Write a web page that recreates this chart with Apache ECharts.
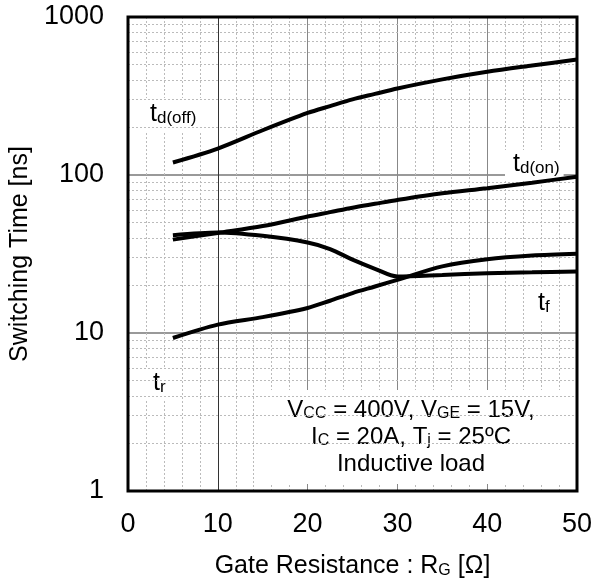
<!DOCTYPE html>
<html>
<head>
<meta charset="utf-8">
<script src="https://cdn.jsdelivr.net/npm/echarts@6/dist/echarts.min.js"></script>
<style>
html,body{margin:0;padding:0;background:#fff;}
#chart{width:603px;height:588px;}
</style>
</head>
<body>
<div id="chart"></div>
<script>
// Gate resistance values (Ω)
const rg = [5, 10, 15, 20, 22.5, 25, 27.5, 30, 35, 40, 45, 50];
// Switching times (ns)
const tdOff = [120, 147, 192, 247, 273, 301, 326, 353, 403, 450, 493, 538];
const tdOn  = [39, 43, 47.5, 54.6, 58.2, 62.1, 65.7, 69.5, 76.6, 82.4, 89.4, 97.6];
const tf    = [41.6, 43.3, 41.2, 37.4, 34, 29.1, 25.5, 22.8, 23.3, 23.9, 24.2, 24.5];
const tr    = [9.3, 11.3, 12.6, 14.4, 16.0, 17.9, 19.7, 21.7, 26.4, 29.3, 30.9, 31.7];
// Minor horizontal gridline values on the log axis
const minorY = [2,3,4,5,6,7,8,9,20,30,40,50,60,70,80,90,200,300,400,500,600,700,800,900];
// Emphasised vertical gridline
const darkX = [10];

const FONT = "'Liberation Sans', Arial, sans-serif";
const pairs = (ys) => rg.map((x, i) => [x, ys[i]]);

const chart = echarts.init(document.getElementById('chart'), null, {renderer: 'canvas'});

const curve = (name, ys) => ({
  name, type: 'line', data: pairs(ys), smooth: 0.3, showSymbol: false, symbol: 'none',
  z: 10, lineStyle: {color: '#000', width: 4}, silent: true
});

const subRich = {
  m: {fontSize: 25, fontFamily: FONT, color: '#000', lineHeight: 25, verticalAlign: 'bottom'},
  s: {fontSize: 17, fontFamily: FONT, color: '#000', lineHeight: 12, verticalAlign: 'bottom'}
};

function label(x, y, main, sub, pad) {
  return {
    type: 'text', x, y, z: 5,
    style: {
      text: '{m|' + main + '}{s|' + sub + '}',
      rich: subRich, align: 'left', verticalAlign: 'top',
      backgroundColor: '#fff', padding: pad
    }
  };
}

chart.setOption({
  animation: false,
  backgroundColor: '#fff',
  grid: {left: 128, right: 26, top: 17, bottom: 97, show: true, borderColor: '#000',
         borderWidth: 3, backgroundColor: 'transparent', z: 20},
  xAxis: {
    type: 'value', min: 0, max: 50, interval: 10,
    axisLine: {show: false}, axisTick: {show: false},
    axisLabel: {fontSize: 27, fontFamily: FONT, color: '#000', margin: 20},
    splitLine: {show: true, showMinLine: false, showMaxLine: false, lineStyle: {color: '#888', width: 1}},
    minorTick: {show: false, splitNumber: 5},
    minorSplitLine: {show: true, lineStyle: {color: '#bbb', width: 1, type: [2, 2]}},
    name: '{m|Gate Resistance : R}{s|G}{m| [Ω]}',
    nameLocation: 'middle', nameGap: 62,
    nameTextStyle: {
      rich: {
        m: {fontSize: 25, fontFamily: FONT, color: '#000', lineHeight: 26, verticalAlign: 'bottom'},
        s: {fontSize: 16, fontFamily: FONT, color: '#000', lineHeight: 12, verticalAlign: 'bottom'}
      }
    }
  },
  yAxis: {
    type: 'log', logBase: 10, min: 1, max: 1000,
    axisLine: {show: false}, axisTick: {show: false},
    axisLabel: {fontSize: 27, fontFamily: FONT, color: '#000', margin: 24,
                formatter: (v) => String(Math.round(v))},
    splitLine: {show: true, showMinLine: false, showMaxLine: false, lineStyle: {color: '#999', width: 2}},
    name: 'Switching Time [ns]', nameLocation: 'middle', nameGap: 90,
    nameTextStyle: {fontSize: 25, fontFamily: FONT, color: '#000'}
  },
  series: [
    {
      type: 'line', data: [], z: 1, silent: true,
      markLine: {
        silent: true, symbol: 'none', label: {show: false},
        lineStyle: {color: '#bbb', width: 1, type: [2, 2]},
        emphasis: {disabled: true},
        data: minorY.map(v => ({yAxis: v}))
      }
    },
    {
      type: 'line', data: [], z: 2, silent: true,
      markLine: {
        silent: true, symbol: 'none', label: {show: false},
        lineStyle: {color: '#333', width: 1, type: 'solid'},
        emphasis: {disabled: true},
        data: darkX.map(v => ({xAxis: v}))
      }
    },
    curve('td(off)', tdOff),
    curve('td(on)', tdOn),
    curve('tf', tf),
    curve('tr', tr)
  ],
  graphic: [
    label(130, 98, 't', 'd(off)', [4, 8, 4, 20]),
    label(505, 150, 't', 'd(on)', [2, 4, 2, 8]),
    label(143, 367, 't', 'r', [4, 6, 4, 10]),
    label(528, 287, 't', 'f', [4, 8, 4, 10]),
    {
      type: 'text', x: 411, y: 390, z: 5,
      style: {
        text: '{m|V}{s|CC}{m| = 400V, V}{s|GE}{m| = 15V,}\n{m|I}{s|C}{m| = 20A, T}{s|j}{m| = 25ºC}\n{m|Inductive load}',
        align: 'center', verticalAlign: 'top',
        backgroundColor: '#fff', padding: [5, 30, 8, 30],
        rich: {
          m: {fontSize: 24, fontFamily: FONT, color: '#000', lineHeight: 27, verticalAlign: 'bottom', align: 'center'},
          s: {fontSize: 16, fontFamily: FONT, color: '#000', lineHeight: 12, verticalAlign: 'bottom', align: 'center'}
        }
      }
    }
  ]
});
</script>
</body>
</html>
